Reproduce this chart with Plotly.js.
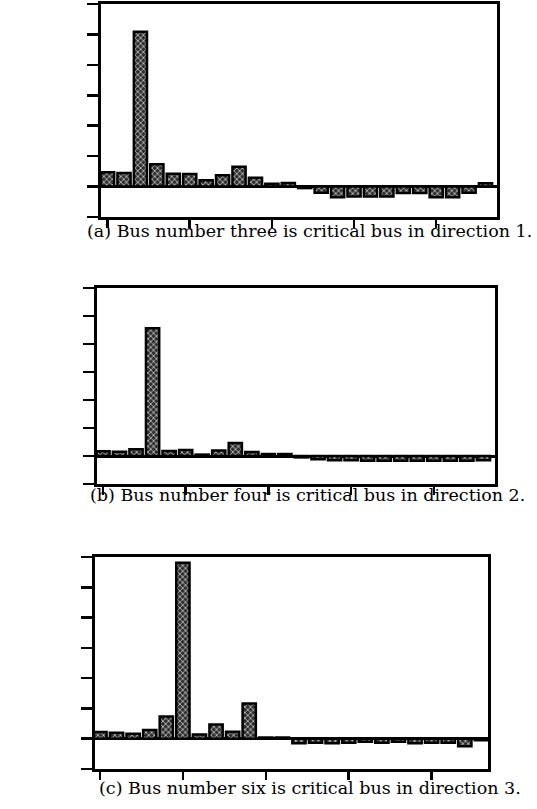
<!DOCTYPE html>
<html>
<head>
<meta charset="utf-8">
<script src="https://cdn.plot.ly/plotly-3.0.1.min.js"></script>
<style>
  html, body { margin: 0; padding: 0; background: #fff; }
  #chart { width: 537px; height: 809px; }
</style>
</head>
<body>
<div id="chart"></div>
<script>
// Bus indices along the horizontal axis
const buses = [1,2,3,4,5,6,7,8,9,10,11,12,13,14,15,16,17,18,19,20,21,22,23,24];

// Sensitivity per bus, one series per loading direction
const direction1 = [0.47, 0.45, 5.09, 0.73, 0.42, 0.41, 0.21, 0.37, 0.65, 0.29, 0.09, 0.12,
                    -0.05, -0.20, -0.35, -0.33, -0.33, -0.33, -0.21, -0.21, -0.35, -0.35, -0.20, 0.11];
const direction2 = [0.17, 0.15, 0.24, 4.56, 0.18, 0.21, 0.05, 0.20, 0.46, 0.14, 0.07, 0.07,
                    -0.05, -0.12, -0.15, -0.15, -0.17, -0.17, -0.17, -0.17, -0.17, -0.17, -0.17, -0.15];
const direction3 = [0.22, 0.20, 0.16, 0.29, 0.73, 5.81, 0.14, 0.47, 0.23, 1.16, 0.04, 0.04,
                    -0.15, -0.13, -0.15, -0.13, -0.10, -0.13, -0.10, -0.15, -0.13, -0.13, -0.25, -0.05];

// Captions under each panel
const captions = [
  "(a) Bus number three is critical bus in direction 1.",
  "(b) Bus number four is critical bus in direction 2.",
  "(c) Bus number six is critical bus in direction 3."
];

const xTicks = [1, 6, 11, 16, 21];
const yTicks = [-1, 0, 1, 2, 3, 4, 5, 6];

const W = 537, H = 809;
// pixel boxes of the three panels: [left, right, top, bottom]
const boxes = [
  [101, 497, 4, 217],
  [97, 495, 288, 484],
  [95, 488, 557, 769]
];
const xRanges = [[0.6, 24.7], [0.64, 24.7], [0.7, 24.4]];
const captionY = [231, 495, 788];
const captionX = [310, 307, 310];

function barTrace(values, i) {
  const sfx = i === 0 ? '' : String(i + 1);
  return {
    type: 'bar',
    x: buses,
    y: values,
    xaxis: 'x' + sfx,
    yaxis: 'y' + sfx,
    width: 0.8,
    marker: {
      color: '#2e2e2e',
      line: { color: '#000', width: 2.5 },
      pattern: { shape: 'x', bgcolor: '#2e2e2e', fgcolor: '#d0d0d0', size: 4, solidity: 0.35 }
    },
    hoverinfo: 'x+y'
  };
}

const series = [direction1, direction2, direction3];
const data = series.map(barTrace);

const layout = {
  width: W, height: H,
  margin: { l: 0, r: 0, t: 0, b: 0 },
  paper_bgcolor: '#fff',
  plot_bgcolor: '#fff',
  showlegend: false,
  annotations: [],
  font: { family: 'DejaVu Serif, serif', color: '#000' }
};

boxes.forEach((b, i) => {
  const sfx = i === 0 ? '' : String(i + 1);
  layout['xaxis' + sfx] = {
    domain: [b[0] / W, b[1] / W],
    anchor: 'y' + sfx,
    range: xRanges[i],
    tickvals: xTicks,
    showticklabels: false,
    ticks: 'outside', ticklen: 8, tickwidth: 2.5, tickcolor: '#000',
    showline: true, linecolor: '#000', linewidth: 3, mirror: true,
    showgrid: false, zeroline: false, fixedrange: true
  };
  layout['yaxis' + sfx] = {
    domain: [1 - b[3] / H, 1 - b[2] / H],
    anchor: 'x' + sfx,
    range: [-1, 6],
    tickvals: yTicks,
    showticklabels: false,
    ticks: 'outside', ticklen: 11, tickwidth: 2.5, tickcolor: '#000',
    showline: true, linecolor: '#000', linewidth: 3, mirror: true,
    showgrid: false,
    zeroline: true, zerolinecolor: '#000', zerolinewidth: 3,
    fixedrange: true
  };
  layout.annotations.push({
    text: captions[i],
    xref: 'paper', yref: 'paper',
    x: captionX[i] / W, y: 1 - captionY[i] / H,
    xanchor: 'center', yanchor: 'middle',
    showarrow: false,
    font: { family: 'DejaVu Serif, serif', size: 17.5, color: '#000' }
  });
});

Plotly.newPlot('chart', data, layout, { staticPlot: true });
</script>
</body>
</html>
